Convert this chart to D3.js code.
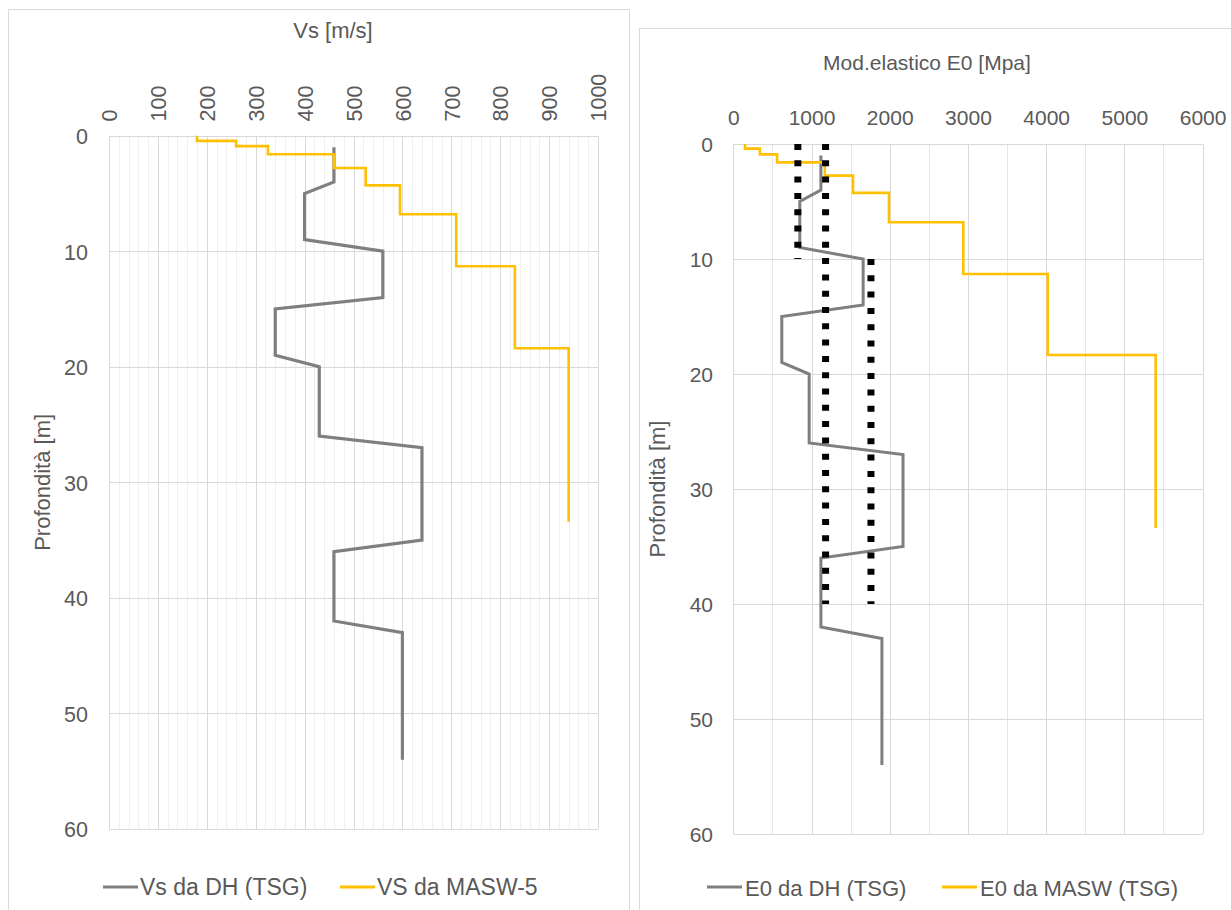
<!DOCTYPE html>
<html>
<head>
<meta charset="utf-8">
<script src="https://cdn.jsdelivr.net/npm/d3@7"></script>
<style>
  html, body { margin: 0; padding: 0; background: #fff; }
  svg { display: block; }
  text { font-family: "Liberation Sans", Arial, sans-serif; fill: #595959; }
</style>
</head>
<body>
<svg id="chart" width="1231" height="910"></svg>
<script>
// ---------------- data ----------------
// Left chart: Vs [m/s]
const vsTicks = [0, 100, 200, 300, 400, 500, 600, 700, 800, 900, 1000];
const depthTicks = [0, 10, 20, 30, 40, 50, 60];
const dhDepths = [1, 4, 5, 9, 10, 14, 15, 19, 20, 26, 27, 35, 36, 42, 43, 54];
const vsDH = [460, 460, 400, 400, 560, 560, 340, 340, 430, 430, 640, 640, 460, 460, 600, 600];
const maswBounds = [0, 0.45, 0.9, 1.6, 2.8, 4.3, 6.8, 11.3, 18.4, 33.4];
const vsMASW = [180, 260, 325, 460, 525, 595, 710, 830, 940];
// Right chart: E0 [MPa]
const e0Ticks = [0, 1000, 2000, 3000, 4000, 5000, 6000];
const e0DH = [1120, 1120, 850, 850, 1660, 1660, 620, 620, 970, 970, 2170, 2170, 1120, 1120, 1900, 1900];
const e0MaswBounds = [0, 0.4, 0.9, 1.6, 2.75, 4.25, 6.8, 11.3, 18.35, 33.4];
const e0MASW = [150, 340, 560, 1170, 1530, 1990, 2940, 4020, 5400];
const refValues = [825, 1180, 1760];
const refTop = [0, 0, 10];
const refBottom = [10, 40, 40];

const leftLegend = ["Vs da DH (TSG)", "VS da MASW-5"];
const rightLegend = ["E0 da DH (TSG)", "E0 da MASW (TSG)"];

const GREY = "#7f7f7f", YELLOW = "#ffc000", GRID = "#d9d9d9", MINOR = "#efefef";

const svg = d3.select("#chart");
svg.append("rect").attr("width", 1231).attr("height", 910).attr("fill", "#fff");

// chart borders
svg.append("rect").attr("x", 8.5).attr("y", 9.5).attr("width", 621).attr("height", 920)
  .attr("fill", "none").attr("stroke", GRID);
svg.append("rect").attr("x", 639.5).attr("y", 28.5).attr("width", 620).attr("height", 920)
  .attr("fill", "none").attr("stroke", GRID);

function stepPoints(bounds, vals) {
  const pts = [];
  vals.forEach((v, i) => { pts.push([v, bounds[i]]); pts.push([v, bounds[i + 1]]); });
  return pts;
}

// ================= LEFT CHART =================
(function () {
  const x = d3.scaleLinear().domain([0, 1000]).range([109, 598]);
  const y = d3.scaleLinear().domain([0, 60]).range([135.7, 829]);
  const g = svg.append("g");

  // minor vertical grid every 20
  g.append("g").selectAll("line").data(d3.range(0, 1001, 20).filter(d => d % 100 !== 0)).join("line")
    .attr("x1", d => Math.round(x(d)) + 0.5).attr("x2", d => Math.round(x(d)) + 0.5)
    .attr("y1", y(0)).attr("y2", y(60)).attr("stroke", MINOR).attr("stroke-width", 1);
  // major vertical grid
  g.append("g").selectAll("line").data(vsTicks).join("line")
    .attr("x1", d => Math.round(x(d)) + 0.5).attr("x2", d => Math.round(x(d)) + 0.5)
    .attr("y1", y(0)).attr("y2", y(60)).attr("stroke", GRID).attr("stroke-width", 1);
  // horizontal grid
  g.append("g").selectAll("line").data(depthTicks).join("line")
    .attr("x1", x(0)).attr("x2", x(1000))
    .attr("y1", d => Math.round(y(d)) + 0.5).attr("y2", d => Math.round(y(d)) + 0.5)
    .attr("stroke", GRID).attr("stroke-width", 1.2);

  // x axis labels (rotated)
  const ax = g.append("g").attr("transform", "translate(0,121.5)")
    .call(d3.axisTop(x).tickValues(vsTicks).tickSize(0).tickPadding(0).tickFormat(d3.format("d")));
  ax.select(".domain").remove();
  ax.selectAll("text").attr("y", 0).attr("x", 0).attr("dy", "0.36em")
    .attr("transform", "rotate(-90)").attr("text-anchor", "start")
    .style("font-size", "21.5px").style("fill", "#595959").style("font-family", "Liberation Sans, Arial, sans-serif");

  // y axis labels
  const ay = g.append("g").attr("transform", "translate(88,0)")
    .call(d3.axisLeft(y).tickValues(depthTicks).tickSize(0).tickPadding(0));
  ay.select(".domain").remove();
  ay.selectAll("text").attr("dy", "0.36em")
    .style("font-size", "21.5px").style("fill", "#595959").style("font-family", "Liberation Sans, Arial, sans-serif");

  // titles
  g.append("text").attr("x", 333).attr("y", 38).attr("text-anchor", "middle")
    .style("font-size", "22px").text("Vs [m/s]");
  g.append("text").attr("transform", "translate(50," + ((y(0) + y(60)) / 2) + ") rotate(-90)")
    .attr("text-anchor", "middle").style("font-size", "22px").text("Profondità [m]");

  const line = d3.line().x(d => x(d[0])).y(d => y(d[1]));
  g.append("path").datum(vsDH.map((v, i) => [v, dhDepths[i]]))
    .attr("d", line).attr("fill", "none").attr("stroke", GREY).attr("stroke-width", 3.2);
  g.append("path").datum(stepPoints(maswBounds, vsMASW))
    .attr("d", line).attr("fill", "none").attr("stroke", YELLOW).attr("stroke-width", 2.6);

  // legend
  const lg = g.append("g");
  const lx = [103, 340];
  leftLegend.forEach((t, i) => {
    lg.append("line").attr("x1", lx[i]).attr("x2", lx[i] + 35).attr("y1", 887).attr("y2", 887)
      .attr("stroke", i === 0 ? GREY : YELLOW).attr("stroke-width", 3.2);
    lg.append("text").attr("x", lx[i] + 37).attr("y", 895).style("font-size", "23px").text(t);
  });
})();

// ================= RIGHT CHART =================
(function () {
  const x = d3.scaleLinear().domain([0, 6000]).range([733.3, 1202.6]);
  const y = d3.scaleLinear().domain([0, 60]).range([144, 834]);
  const g = svg.append("g");

  // vertical grid every 500
  g.append("g").selectAll("line").data(d3.range(0, 6001, 500)).join("line")
    .attr("x1", d => Math.round(x(d)) + 0.5).attr("x2", d => Math.round(x(d)) + 0.5)
    .attr("y1", y(0)).attr("y2", y(60))
    .attr("stroke", d => d % 1000 === 0 ? GRID : "#e6e6e6").attr("stroke-width", 1);
  // horizontal grid
  g.append("g").selectAll("line").data(depthTicks).join("line")
    .attr("x1", x(0)).attr("x2", x(6000))
    .attr("y1", d => Math.round(y(d)) + 0.5).attr("y2", d => Math.round(y(d)) + 0.5)
    .attr("stroke", GRID).attr("stroke-width", 1.2);

  const ax = g.append("g").attr("transform", "translate(0,125)")
    .call(d3.axisTop(x).tickValues(e0Ticks).tickSize(0).tickPadding(0).tickFormat(d3.format("d")));
  ax.select(".domain").remove();
  ax.selectAll("text").attr("y", 0).attr("dy", 0)
    .style("font-size", "21px").style("fill", "#595959").style("font-family", "Liberation Sans, Arial, sans-serif");

  const ay = g.append("g").attr("transform", "translate(713,0)")
    .call(d3.axisLeft(y).tickValues(depthTicks).tickSize(0).tickPadding(0));
  ay.select(".domain").remove();
  ay.selectAll("text").attr("dy", "0.36em")
    .style("font-size", "21px").style("fill", "#595959").style("font-family", "Liberation Sans, Arial, sans-serif");

  g.append("text").attr("x", 927).attr("y", 70).attr("text-anchor", "middle")
    .style("font-size", "21px").text("Mod.elastico E0 [Mpa]");
  g.append("text").attr("transform", "translate(665," + ((y(0) + y(60)) / 2) + ") rotate(-90)")
    .attr("text-anchor", "middle").style("font-size", "22px").text("Profondità [m]");

  const line = d3.line().x(d => x(d[0])).y(d => y(d[1]));
  g.append("path").datum(e0DH.map((v, i) => [v, dhDepths[i]]))
    .attr("d", line).attr("fill", "none").attr("stroke", GREY).attr("stroke-width", 3);
  g.append("path").datum(stepPoints(e0MaswBounds, e0MASW))
    .attr("d", line).attr("fill", "none").attr("stroke", YELLOW).attr("stroke-width", 2.6);

  // dotted reference lines
  g.append("g").selectAll("line").data(refValues).join("line")
    .attr("x1", d => x(d)).attr("x2", d => x(d))
    .attr("y1", (d, i) => y(refTop[i])).attr("y2", (d, i) => y(refBottom[i]))
    .attr("stroke", "#000").attr("stroke-width", 7).attr("stroke-dasharray", "6 10.3");

  const lg = g.append("g");
  const lx = [707, 942];
  rightLegend.forEach((t, i) => {
    lg.append("line").attr("x1", lx[i]).attr("x2", lx[i] + 35).attr("y1", 887).attr("y2", 887)
      .attr("stroke", i === 0 ? GREY : YELLOW).attr("stroke-width", 3.2);
    lg.append("text").attr("x", lx[i] + 38).attr("y", 896).style("font-size", "22px").text(t);
  });
})();
</script>
</body>
</html>
